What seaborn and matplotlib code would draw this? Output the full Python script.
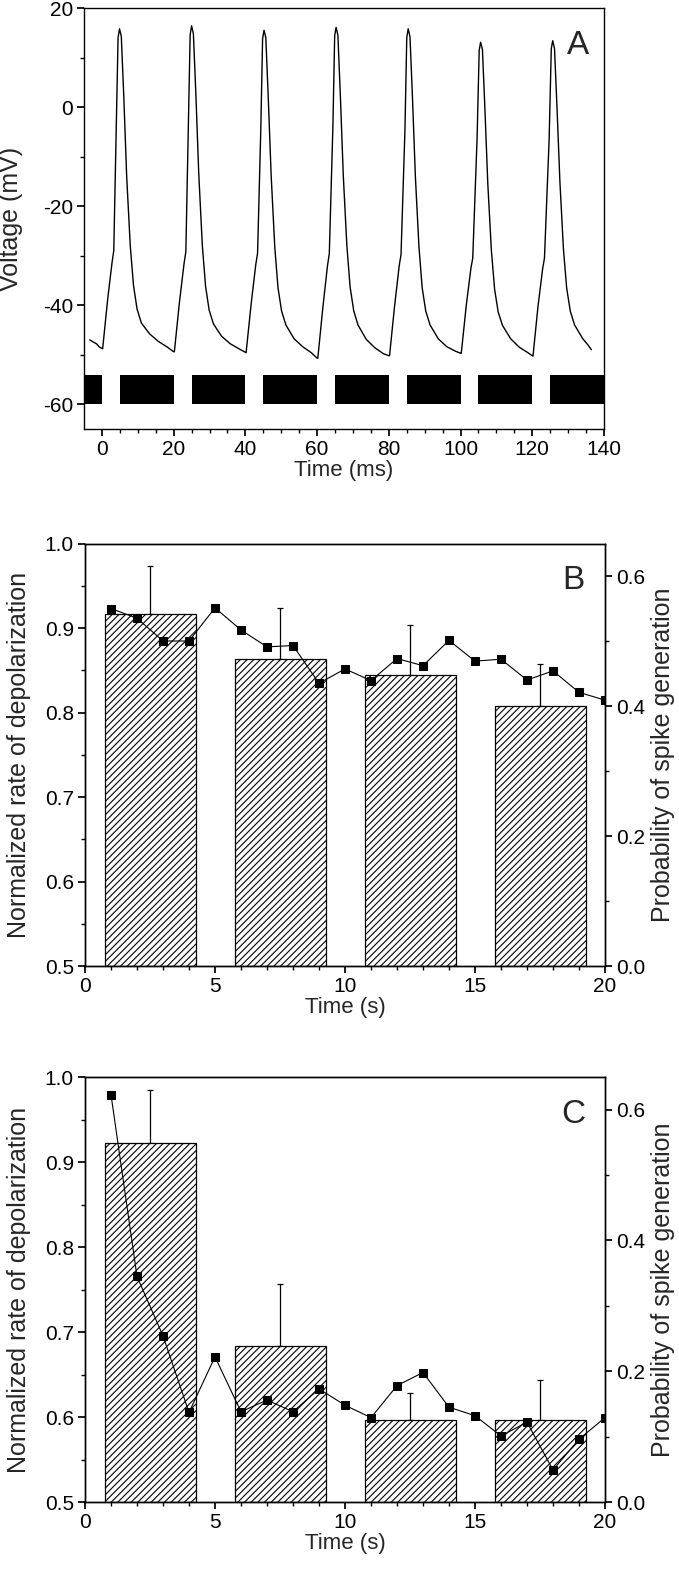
import numpy as np
import matplotlib
matplotlib.use("Agg")
import matplotlib.pyplot as plt
import seaborn as sns

# ---- panel A: membrane voltage trace (key points per spike)
trace_t = [-3.4, -2.5, -1.5, -0.8,
           0.2, 1.6, 2.8, 3.3, 4.0, 4.5, 4.9, 5.4, 6.1, 6.9, 7.9, 8.8, 9.8, 11.0, 13.3, 15.7, 18.1, 20.0,
           20.2, 21.6, 22.9, 23.4, 24.1, 24.6, 25.0, 25.5, 26.2, 27.0, 28.0, 28.9, 29.9, 31.1, 33.4, 35.8, 38.2, 40.0,
           40.2, 41.6, 42.9, 43.4, 44.3, 44.8, 45.2, 45.7, 46.4, 47.2, 48.2, 49.1, 50.1, 51.3, 53.6, 56.0, 58.4, 60.0,
           60.2, 61.6, 62.9, 63.4, 64.4, 64.9, 65.3, 65.8, 66.5, 67.3, 68.3, 69.2, 70.2, 71.4, 73.7, 76.1, 78.5, 80.0,
           80.2, 81.6, 82.9, 83.4, 84.5, 85.0, 85.4, 85.9, 86.6, 87.4, 88.4, 89.3, 90.3, 91.5, 93.8, 96.2, 98.6, 100.0,
           100.2, 101.6, 102.9, 103.4, 104.6, 105.2, 105.6, 106.1, 106.8, 107.6, 108.6, 109.5, 110.5, 111.7, 114.0, 116.4, 118.8, 120.0,
           120.2, 121.6, 122.9, 123.4, 124.7, 125.3, 125.7, 126.2, 126.9, 127.7, 128.7, 129.6, 130.6, 131.8, 134.1, 135.5, 136.5]
trace_v = [-47.0, -47.4, -47.8, -48.4,
           -48.8, -38.8, -31.5, -29.0, -4.0, 14.0, 15.8, 14.3, 2.0, -14.0, -28.0, -36.0, -40.8, -43.6, -45.8, -47.3, -48.4, -49.4,
           -49.4, -39.5, -31.6, -29.2, -4.0, 14.6, 16.4, 14.8, 2.5, -13.5, -28.0, -36.2, -41.0, -43.8, -46.3, -47.8, -48.8, -49.5,
           -49.6, -39.8, -31.8, -29.5, -4.5, 13.8, 15.5, 14.0, 1.5, -14.0, -28.3, -36.5, -41.2, -44.0, -46.8, -48.4, -49.6, -50.7,
           -50.7, -40.5, -32.0, -29.6, -4.0, 14.4, 16.1, 14.5, 2.0, -13.8, -28.0, -36.3, -41.1, -44.0, -46.9, -48.6, -49.8, -50.2,
           -50.2, -40.2, -32.0, -29.8, -4.5, 14.0, 15.8, 14.2, 1.8, -14.0, -28.2, -36.5, -41.2, -44.0, -46.8, -48.4, -49.3, -49.7,
           -49.7, -40.0, -32.5, -30.5, -6.5, 11.5, 13.1, 11.6, -0.5, -15.5, -29.0, -36.8, -41.4, -44.1, -46.8, -48.5, -49.6, -50.2,
           -50.3, -40.2, -32.6, -30.5, -6.5, 11.8, 13.4, 11.8, -0.2, -15.0, -28.8, -36.6, -41.2, -44.0, -46.8, -48.0, -49.0]

# stimulus marker: white windows inside the black band
stim_on = [0, 20, 40, 60, 80, 100, 120]
stim_len = 5
band_low, band_high = -60, -54.1

# ---- panels B and C
time_s = list(range(1, 21))
bar_centers = [2.5, 7.5, 12.5, 17.5]

rate_b = [0.917, 0.863, 0.844, 0.808]
rate_b_top = [0.973, 0.924, 0.903, 0.857]
prob_b = [0.550, 0.535, 0.500, 0.500, 0.551, 0.517, 0.491, 0.493, 0.435, 0.457,
          0.439, 0.473, 0.462, 0.501, 0.469, 0.472, 0.440, 0.454, 0.421, 0.409]

rate_c = [0.922, 0.683, 0.596, 0.596]
rate_c_top = [0.985, 0.756, 0.628, 0.643]
prob_c = [0.623, 0.345, 0.254, 0.137, 0.222, 0.138, 0.156, 0.138, 0.173, 0.148,
          0.129, 0.178, 0.198, 0.145, 0.132, 0.101, 0.122, 0.049, 0.096, 0.129]

sns.set_theme(style="ticks")
plt.rcParams["font.family"] = ["Liberation Sans", "DejaVu Sans"]
plt.rcParams["axes.unicode_minus"] = False
plt.rcParams["hatch.linewidth"] = 0.8
plt.rcParams["axes.linewidth"] = 1.0
plt.rcParams["xtick.major.size"] = 5
plt.rcParams["ytick.major.size"] = 5
plt.rcParams["xtick.minor.size"] = 3
plt.rcParams["ytick.minor.size"] = 3
plt.rcParams["xtick.direction"] = "out"
plt.rcParams["ytick.direction"] = "out"

TICK_FS = 15
XLAB_FS = 16
YLAB_FS = 18
LETTER_FS = 24

fig = plt.figure(figsize=(6.79, 15.72), dpi=100)
W, H = 679, 1572


def box(left, top, right, bottom):
    return [left / W, 1 - bottom / H, (right - left) / W, (bottom - top) / H]


# ---------- A
axA = fig.add_axes(box(84, 8, 604, 429))
axA.axhspan(band_low, band_high, color="black", lw=0)
axA.bar(stim_on, band_high - band_low, bottom=band_low, width=stim_len, align="edge",
        color="white", edgecolor="none", zorder=2)
sns.lineplot(x=trace_t, y=trace_v, ax=axA, color="black", lw=1.0, estimator=None, sort=False)
axA.set_xlim(-5, 140)
axA.set_ylim(-65, 20)
axA.set_xticks(np.arange(0, 141, 20))
axA.set_xticks(np.arange(0, 141, 5), minor=True)
axA.set_yticks([20, 0, -20, -40, -60])
axA.set_yticks(np.arange(-60, 21, 10), minor=True)
axA.tick_params(labelsize=TICK_FS, colors="black", pad=3)
axA.tick_params(which="both", top=False, right=False, color="black")
axA.set_xlabel("Time (ms)", fontsize=XLAB_FS, labelpad=1)
axA.set_ylabel("Voltage (mV)", fontsize=YLAB_FS)
axA.yaxis.set_label_coords(-0.118, 0.5)
axA.text(0.95, 0.912, "A", transform=axA.transAxes, fontsize=LETTER_FS, ha="center", va="center")
for s in axA.spines.values():
    s.set_visible(True)
    s.set_color("black")


def panel(rect, rates, tops, probs, letter):
    ax = fig.add_axes(rect)
    up = np.array(tops) - np.array(rates)
    ax.errorbar(bar_centers, rates, yerr=[np.zeros(len(up)), up], fmt="none",
                ecolor="black", elinewidth=0.9, capsize=2.5, capthick=0.9, zorder=1)
    ax.bar(bar_centers, np.array(rates) - 0.5, bottom=0.5, width=3.5, color="white",
           edgecolor="black", hatch="/////", lw=0.9, zorder=2)
    ax.set_xlim(0, 20)
    ax.set_ylim(0.5, 1.0)
    ax.set_xticks([0, 5, 10, 15, 20])
    ax.set_xticks(range(0, 21), minor=True)
    ax.set_yticks(np.arange(0.5, 1.001, 0.1))
    ax.set_yticks(np.arange(0.5, 1.001, 0.05), minor=True)
    ax.yaxis.set_major_formatter(matplotlib.ticker.FormatStrFormatter("%.1f"))
    ax.tick_params(labelsize=TICK_FS, colors="black", pad=3)
    ax.tick_params(which="both", top=False, right=False, color="black")
    ax.set_xlabel("Time (s)", fontsize=XLAB_FS, labelpad=1)
    ax.set_ylabel("Normalized rate of depolarization", fontsize=YLAB_FS)
    ax.yaxis.set_label_coords(-0.104, 0.5)

    ax2 = ax.twinx()
    sns.lineplot(x=time_s, y=probs, ax=ax2, color="black", lw=0.8, marker="s",
                 markersize=5.5, markeredgecolor="black", markerfacecolor="black",
                 estimator=None, sort=False)
    ax2.set_ylim(0, 0.65)
    ax2.set_yticks([0.0, 0.2, 0.4, 0.6])
    ax2.set_yticks([0.1, 0.3, 0.5], minor=True)
    ax2.yaxis.set_major_formatter(matplotlib.ticker.FormatStrFormatter("%.1f"))
    ax2.tick_params(labelsize=TICK_FS, colors="black", pad=3)
    ax2.tick_params(which="both", color="black")
    ax2.set_ylabel("Probability of spike generation", fontsize=YLAB_FS)
    ax2.yaxis.set_label_coords(1.088, 0.5)
    ax2.text(0.94, 0.912, letter, transform=ax2.transAxes, fontsize=LETTER_FS,
             ha="center", va="center")
    for a in (ax, ax2):
        for s in a.spines.values():
            s.set_visible(True)
            s.set_color("black")
    return ax


panel(box(85, 543.5, 605, 966), rate_b, rate_b_top, prob_b, "B")
panel(box(85, 1077, 605, 1502), rate_c, rate_c_top, prob_c, "C")

fig.savefig("out.png", dpi=100, facecolor="white")
